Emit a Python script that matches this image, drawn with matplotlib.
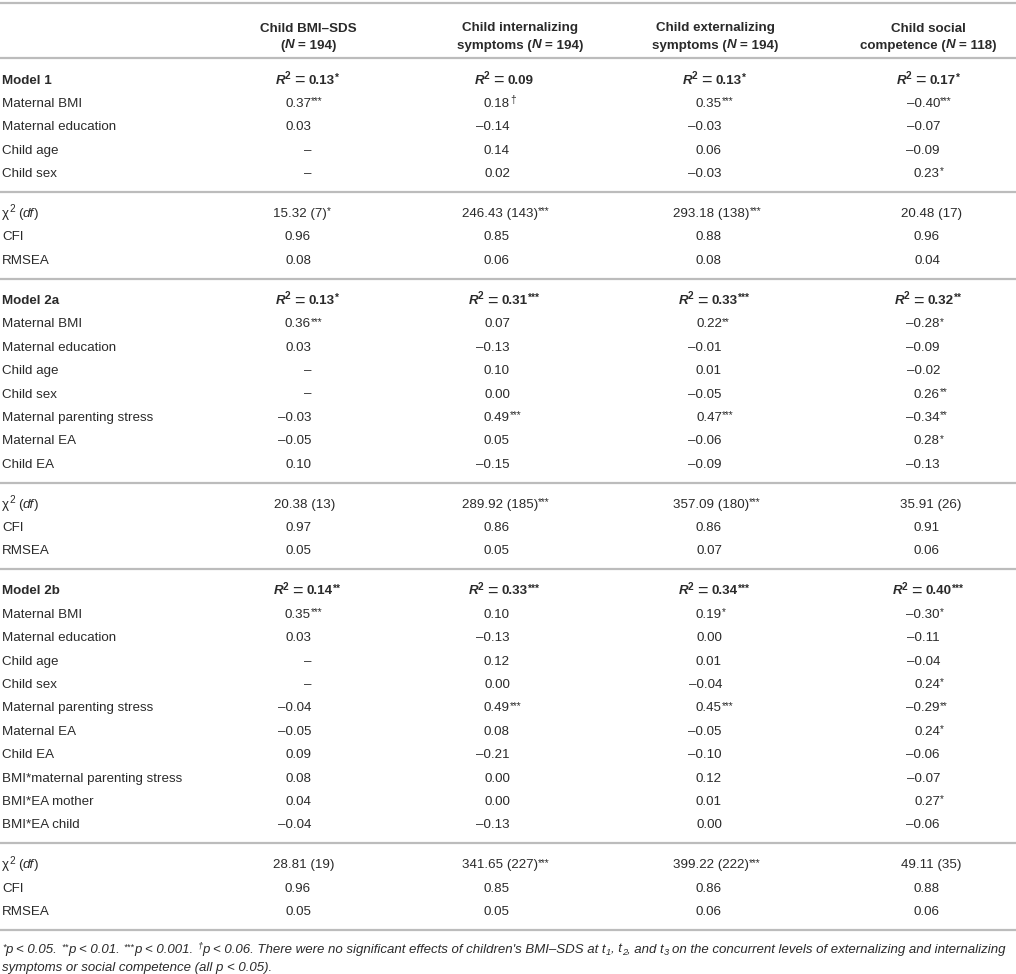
import matplotlib
matplotlib.use("Agg")
import matplotlib.pyplot as plt
from matplotlib import font_manager as fm

# ---------------- data ----------------
header_line1 = ["Child BMI–SDS", "Child internalizing", "Child externalizing", "Child social"]
header_line2_prefix = ["(", "symptoms (", "symptoms (", "competence ("]
sample_n = [194, 194, 194, 118]

predictors_m1 = ["Maternal BMI", "Maternal education", "Child age", "Child sex"]
predictors_m2a = predictors_m1 + ["Maternal parenting stress", "Maternal EA", "Child EA"]
predictors_m2b = predictors_m2a + ["BMI*maternal parenting stress", "BMI*EA mother", "BMI*EA child"]

model_names = ["Model 1", "Model 2a", "Model 2b"]

r2_m1 = [0.13, 0.09, 0.13, 0.17]
r2_m1_sig = ["*", "", "*", "*"]
r2_m2a = [0.13, 0.31, 0.33, 0.32]
r2_m2a_sig = ["*", "***", "***", "**"]
r2_m2b = [0.14, 0.33, 0.34, 0.40]
r2_m2b_sig = ["**", "***", "***", "***"]

# coefficients: rows = predictors, cols = outcomes; None = not estimated
coef_m1 = [[0.37, 0.18, 0.35, -0.40],
           [0.03, -0.14, -0.03, -0.07],
           [None, 0.14, 0.06, -0.09],
           [None, 0.02, -0.03, 0.23]]
sig_m1 = [["***", "†", "***", "***"],
          ["", "", "", ""],
          ["", "", "", ""],
          ["", "", "", "*"]]

coef_m2a = [[0.36, 0.07, 0.22, -0.28],
            [0.03, -0.13, -0.01, -0.09],
            [None, 0.10, 0.01, -0.02],
            [None, 0.00, -0.05, 0.26],
            [-0.03, 0.49, 0.47, -0.34],
            [-0.05, 0.05, -0.06, 0.28],
            [0.10, -0.15, -0.09, -0.13]]
sig_m2a = [["***", "", "**", "*"],
           ["", "", "", ""],
           ["", "", "", ""],
           ["", "", "", "**"],
           ["", "***", "***", "**"],
           ["", "", "", "*"],
           ["", "", "", ""]]

coef_m2b = [[0.35, 0.10, 0.19, -0.30],
            [0.03, -0.13, 0.00, -0.11],
            [None, 0.12, 0.01, -0.04],
            [None, 0.00, -0.04, 0.24],
            [-0.04, 0.49, 0.45, -0.29],
            [-0.05, 0.08, -0.05, 0.24],
            [0.09, -0.21, -0.10, -0.06],
            [0.08, 0.00, 0.12, -0.07],
            [0.04, 0.00, 0.01, 0.27],
            [-0.04, -0.13, 0.00, -0.06]]
sig_m2b = [["***", "", "*", "*"],
           ["", "", "", ""],
           ["", "", "", ""],
           ["", "", "", "*"],
           ["", "***", "***", "**"],
           ["", "", "", "*"],
           ["", "", "", ""],
           ["", "", "", ""],
           ["", "", "", "*"],
           ["", "", "", ""]]

chi_m1 = [15.32, 246.43, 293.18, 20.48]
df_m1 = [7, 143, 138, 17]
chi_sig_m1 = ["*", "***", "***", ""]
cfi_m1 = [0.96, 0.85, 0.88, 0.96]
rmsea_m1 = [0.08, 0.06, 0.08, 0.04]

chi_m2a = [20.38, 289.92, 357.09, 35.91]
df_m2a = [13, 185, 180, 26]
chi_sig_m2a = ["", "***", "***", ""]
cfi_m2a = [0.97, 0.86, 0.86, 0.91]
rmsea_m2a = [0.05, 0.05, 0.07, 0.06]

chi_m2b = [28.81, 341.65, 399.22, 49.11]
df_m2b = [19, 227, 222, 35]
chi_sig_m2b = ["", "***", "***", ""]
cfi_m2b = [0.96, 0.85, 0.86, 0.88]
rmsea_m2b = [0.05, 0.05, 0.06, 0.06]

# ---------------- style / layout ----------------
W, H, DPI = 1016, 974, 100
FAM = "Liberation Sans"
TXT = "#2a2a2a"
LINE_C = "#bcbcbc"
FS = 9.6
SUP = 7.2
RAISE = 4.6       # superscript "2"
STAR_RAISE = 2.6  # significance asterisks
DAG_RAISE = 3.6


def has_font(name):
    try:
        fm.findfont(fm.FontProperties(family=name), fallback_to_default=False)
        return True
    except Exception:
        return False


FOOT_FAM = "Liberation Sans Narrow" if has_font("Liberation Sans Narrow") else FAM

P_REG = dict(family=FAM, size=FS, color=TXT)
P_BOLD = dict(family=FAM, size=FS, color=TXT, weight="bold")
P_BIT = dict(family=FAM, size=FS, color=TXT, weight="bold", style="italic")
P_IT = dict(family=FAM, size=FS, color=TXT, style="italic")
P_SUP = dict(family=FAM, size=SUP, color=TXT)
P_BSUP = dict(family=FAM, size=SUP, color=TXT, weight="bold")
P_EQ = dict(family=FAM, size=FS * 1.35, color=TXT)

label_x = 2
header_center = [308, 520, 715, 928]
r2_center = [307, 504, 714, 928]
num_right = [311, 510, 722, 940]
chi_right = [307, 503, 714, 934]

fig = plt.figure(figsize=(W / DPI, H / DPI), dpi=DPI)
ax = fig.add_axes([0, 0, 1, 1])
ax.set_xlim(0, W)
ax.set_ylim(H, 0)
ax.axis("off")
renderer = fig.canvas.get_renderer()


def tw(s, props):
    t = ax.text(0, 0, "|" + s + "|", **props)
    w1 = t.get_window_extent(renderer).width
    t.set_text("||")
    w2 = t.get_window_extent(renderer).width
    t.remove()
    return w1 - w2


def rich(x, y, segs, ha="left"):
    widths = [tw(s, p) for s, p, dy in segs]
    total = sum(widths)
    if ha == "center":
        cx = x - total / 2
    elif ha == "right":
        cx = x - total
    else:
        cx = x
    for (s, p, dy), w in zip(segs, widths):
        stripped = s.lstrip(" ")
        lead = len(s) - len(stripped)
        off = tw(" " * lead, p) if lead else 0
        if stripped:
            ax.text(cx + off, y - dy, stripped, ha="left", va="baseline", **p)
        cx += w


def fmt(v, nd=2):
    return f"{v:.{nd}f}".replace("-", "–")


def sig_seg(sig, bold=False):
    p = P_BSUP if bold else P_SUP
    return (sig, p, DAG_RAISE if sig == "†" else STAR_RAISE)


def hline(y):
    ax.plot([0, W], [y, y], color=LINE_C, lw=1.6, solid_capstyle="butt")


BASE = 4.5  # baseline offset from row centre

# header
hline(3)
for c in range(4):
    ax.text(header_center[c], 27 + BASE, header_line1[c], ha="center", va="baseline", **P_BOLD)
    rich(header_center[c], 44 + BASE,
         [(header_line2_prefix[c], P_BOLD, 0), ("N", P_BIT, 0), (f" = {sample_n[c]})", P_BOLD, 0)],
         ha="center")
hline(58)

ROW = 23.4
TO_LINE = 19.5
FROM_LINE = 20.5

models = [
    (model_names[0], r2_m1, r2_m1_sig, predictors_m1, coef_m1, sig_m1,
     chi_m1, df_m1, chi_sig_m1, cfi_m1, rmsea_m1),
    (model_names[1], r2_m2a, r2_m2a_sig, predictors_m2a, coef_m2a, sig_m2a,
     chi_m2a, df_m2a, chi_sig_m2a, cfi_m2a, rmsea_m2a),
    (model_names[2], r2_m2b, r2_m2b_sig, predictors_m2b, coef_m2b, sig_m2b,
     chi_m2b, df_m2b, chi_sig_m2b, cfi_m2b, rmsea_m2b),
]


def num_cell(c, y, v, sig):
    if v is None:
        ax.text(num_right[c], y, "–", ha="right", va="baseline", **P_REG)
        return
    s = fmt(v)
    segs = [(s, P_REG, 0)]
    if sig:
        segs.append(sig_seg(sig))
    rich(num_right[c] - tw(s, P_REG), y, segs)


y = 79.0
for (name, r2, r2s, preds, coef, sig, chi, dfs, chis, cfi, rmsea) in models:
    yb = y + BASE
    ax.text(label_x, yb, name, ha="left", va="baseline", **P_BOLD)
    for c in range(4):
        segs = [("R", P_BIT, 0), ("2", P_BSUP, RAISE), (" ", P_BOLD, 0),
                ("=", P_EQ, -1.5), (" " + fmt(r2[c]), P_BOLD, 0)]
        if r2s[c]:
            segs.append(sig_seg(r2s[c], bold=True))
        rich(r2_center[c], yb, segs, ha="center")
    for i, pname in enumerate(preds):
        y += ROW
        yb = y + BASE
        ax.text(label_x, yb, pname, ha="left", va="baseline", **P_REG)
        for c in range(4):
            num_cell(c, yb, coef[i][c], sig[i][c])
    y += TO_LINE
    hline(y)
    y += FROM_LINE
    # fit statistics
    yb = y + BASE
    rich(label_x, yb, [("χ", P_REG, 0), ("2", P_SUP, RAISE), (" (", P_REG, 0),
                       ("df", P_IT, 0), (")", P_REG, 0)])
    for c in range(4):
        lead = fmt(chi[c])
        segs = [(lead + f" ({dfs[c]})", P_REG, 0)]
        if chis[c]:
            segs.append(sig_seg(chis[c]))
        rich(chi_right[c] - tw(lead, P_REG), yb, segs)
    y += ROW
    yb = y + BASE
    ax.text(label_x, yb, "CFI", ha="left", va="baseline", **P_REG)
    for c in range(4):
        num_cell(c, yb, cfi[c], "")
    y += ROW
    yb = y + BASE
    ax.text(label_x, yb, "RMSEA", ha="left", va="baseline", **P_REG)
    for c in range(4):
        num_cell(c, yb, rmsea[c], "")
    y += TO_LINE
    hline(y)
    y += FROM_LINE


# footnote
def foot_segs(fs):
    it = dict(family=FOOT_FAM, size=fs, color=TXT, style="italic")
    sm = dict(family=FOOT_FAM, size=fs * 0.7, color=TXT, style="italic")
    up = fs * 0.3
    dn = -fs * 0.25
    return [
        ("*", sm, up), ("p < 0.05. ", it, 0),
        ("**", sm, up), ("p < 0.01. ", it, 0),
        ("***", sm, up), ("p < 0.001. ", it, 0),
        ("†", sm, fs * 0.4), ("p < 0.06. There were no significant effects of children's BMI–SDS at t", it, 0),
        ("1", sm, dn), (", t", it, 0), ("2", sm, dn), (", and t", it, 0), ("3", sm, dn),
        (" on the concurrent levels of externalizing and internalizing", it, 0),
    ]


base_fs = 9.0
total = sum(tw(s, p) for s, p, dy in foot_segs(base_fs))
foot_fs = base_fs * 1008 / total
fy1 = y - FROM_LINE + 18 + BASE
rich(label_x, fy1, foot_segs(foot_fs))
ax.text(label_x, fy1 + 18.5, "symptoms or social competence (all p < 0.05).", ha="left", va="baseline",
        family=FOOT_FAM, size=foot_fs, color=TXT, style="italic")

fig.savefig("out.png", dpi=DPI, facecolor="white")
